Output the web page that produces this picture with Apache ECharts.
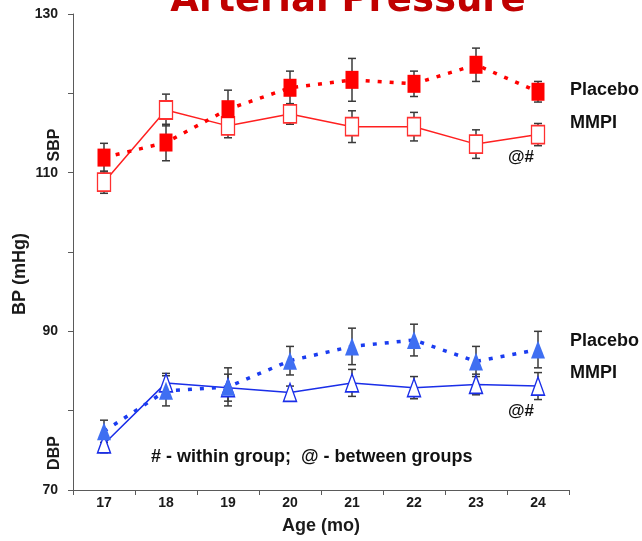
<!DOCTYPE html>
<html>
<head>
<meta charset="utf-8">
<script src="https://cdn.jsdelivr.net/npm/echarts@6/dist/echarts.min.js"></script>
<style>html,body{margin:0;padding:0;background:#fff;}#c{width:642px;height:541px;}</style>
</head>
<body>
<div id="c"></div>
<script>
var ages = ['17','18','19','20','21','22','23','24'];
var sbpPlacebo = [111.9, 113.8, 118.0, 120.7, 121.7, 121.2, 123.6, 120.2];
var sbpPlaceboErr = [1.8, 2.3, 2.4, 2.1, 2.7, 1.6, 2.1, 1.3];
var sbpMmpi = [108.8, 117.9, 115.9, 117.4, 115.8, 115.8, 113.6, 114.8];
var sbpMmpiErr = [1.4, 2.0, 1.5, 1.3, 2.0, 1.8, 1.8, 1.4];
var dbpPlacebo = [77.4, 82.5, 83.0, 86.3, 88.1, 88.9, 86.2, 87.7];
var dbpPlaceboErr = [1.4, 1.9, 2.4, 1.8, 2.3, 2.0, 1.9, 2.3];
var dbpMmpi = [75.8, 83.5, 82.9, 82.3, 83.5, 82.9, 83.3, 83.1];
var dbpMmpiErr = [1.1, 1.2, 1.7, 0.8, 1.7, 1.4, 1.3, 1.7];
var yTicks = [70, 90, 110, 130];

function errData(vals, errs) {
  return vals.map(function (v, i) { return [i, v - errs[i], v + errs[i]]; });
}
function errSeries(vals, errs) {
  return {
    type: 'custom', z: 1, silent: true,
    data: errData(vals, errs),
    renderItem: function (params, api) {
      var lo = api.coord([api.value(0), api.value(1)]);
      var hi = api.coord([api.value(0), api.value(2)]);
      var w = 4;
      var st = { stroke: '#3a3a3a', lineWidth: 1.5 };
      return { type: 'group', children: [
        { type: 'line', shape: { x1: lo[0], y1: lo[1], x2: hi[0], y2: hi[1] }, style: st },
        { type: 'line', shape: { x1: lo[0]-w, y1: lo[1], x2: lo[0]+w, y2: lo[1] }, style: st },
        { type: 'line', shape: { x1: hi[0]-w, y1: hi[1], x2: hi[0]+w, y2: hi[1] }, style: st }
      ]};
    }
  };
}

var chart = echarts.init(document.getElementById('c'));
var bold = 'bold';
var ff = 'Liberation Sans, Arial, sans-serif';
var f = function (s) { return 'bold ' + s + 'px Liberation Sans, Arial, sans-serif'; };
chart.setOption({
  animation: false,
  backgroundColor: '#ffffff',
  grid: { left: 73, right: 73, top: 14, bottom: 51, containLabel: false, outerBoundsMode: 'none' },
  xAxis: {
    type: 'category', data: ages, boundaryGap: true,
    axisLine: { lineStyle: { color: '#5a5a5a', width: 1 } },
    axisTick: { show: true, inside: false, length: 5, lineStyle: { color: '#5a5a5a' } },
    axisLabel: { color: '#1a1a1a', fontWeight: bold, fontSize: 14, fontFamily: ff, margin: 6 },
    name: 'Age (mo)', nameLocation: 'middle', nameGap: 27,
    nameTextStyle: { color: '#1a1a1a', fontWeight: bold, fontSize: 18, fontFamily: ff }
  },
  yAxis: {
    type: 'value', min: 70, max: 130, interval: 10,
    splitLine: { show: false },
    axisLine: { show: true, lineStyle: { color: '#5a5a5a', width: 1 } },
    axisTick: { show: true, inside: false, length: 5, lineStyle: { color: '#5a5a5a' } },
    axisLabel: {
      color: '#1a1a1a', fontWeight: bold, fontSize: 14, fontFamily: ff, margin: 15,
      formatter: function (v) { return yTicks.indexOf(v) >= 0 ? String(v) : ''; }
    }
  },
  graphic: [
    { type: 'text', x: 348, y: 1, style: { text: 'Arterial Pressure', fill: '#c00000', font: 'bold 37px "DejaVu Sans", sans-serif', align: 'center', verticalAlign: 'middle' } },
    { type: 'text', x: 20, y: 274, rotation: Math.PI/2, style: { text: 'BP (mHg)', fill: '#1a1a1a', font: f(18), align: 'center', verticalAlign: 'middle' } },
    { type: 'text', x: 55, y: 145, rotation: Math.PI/2, style: { text: 'SBP', fill: '#1a1a1a', font: f(16), align: 'center', verticalAlign: 'middle' } },
    { type: 'text', x: 55, y: 453, rotation: Math.PI/2, style: { text: 'DBP', fill: '#1a1a1a', font: f(16), align: 'center', verticalAlign: 'middle' } },
    { type: 'text', x: 570, y: 90, style: { text: 'Placebo', fill: '#111', font: f(18), verticalAlign: 'middle' } },
    { type: 'text', x: 570, y: 123, style: { text: 'MMPI', fill: '#111', font: f(18), verticalAlign: 'middle' } },
    { type: 'text', x: 570, y: 341, style: { text: 'Placebo', fill: '#111', font: f(18), verticalAlign: 'middle' } },
    { type: 'text', x: 570, y: 373, style: { text: 'MMPI', fill: '#111', font: f(18), verticalAlign: 'middle' } },
    { type: 'text', x: 508, y: 157, style: { text: '@#', fill: '#111', font: f(17), verticalAlign: 'middle' } },
    { type: 'text', x: 508, y: 411, style: { text: '@#', fill: '#111', font: f(17), verticalAlign: 'middle' } },
    { type: 'text', x: 151, y: 457, style: { text: '# - within group;  @ - between groups', fill: '#111', font: f(18), verticalAlign: 'middle' } }
  ],
  series: [
    errSeries(sbpPlacebo, sbpPlaceboErr),
    errSeries(sbpMmpi, sbpMmpiErr),
    errSeries(dbpPlacebo, dbpPlaceboErr),
    errSeries(dbpMmpi, dbpMmpiErr),
    { type: 'line', z: 3, data: sbpMmpi, symbol: 'rect', symbolSize: [13, 18],
      lineStyle: { color: '#ff2020', width: 1.5 },
      itemStyle: { color: '#ffffff', borderColor: '#ff3030', borderWidth: 1.5 } },
    { type: 'line', z: 4, data: sbpPlacebo, symbol: 'rect', symbolSize: [13, 18],
      lineStyle: { color: '#ff0000', width: 3.5, type: [4, 8] },
      itemStyle: { color: '#ff0000', borderColor: '#ff0000', borderWidth: 0 } },
    { type: 'line', z: 3, data: dbpMmpi, symbol: 'triangle', symbolSize: [13, 18],
      lineStyle: { color: '#1a2ee8', width: 1.5 },
      itemStyle: { color: '#ffffff', borderColor: '#1a2ee8', borderWidth: 1.5 } },
    { type: 'line', z: 4, data: dbpPlacebo, symbol: 'triangle', symbolSize: [14, 18],
      lineStyle: { color: '#1a3cf0', width: 3.5, type: [4, 8] },
      itemStyle: { color: '#3f6ff2', borderColor: '#3f6ff2', borderWidth: 0 } }
  ]
});
</script>
</body>
</html>
